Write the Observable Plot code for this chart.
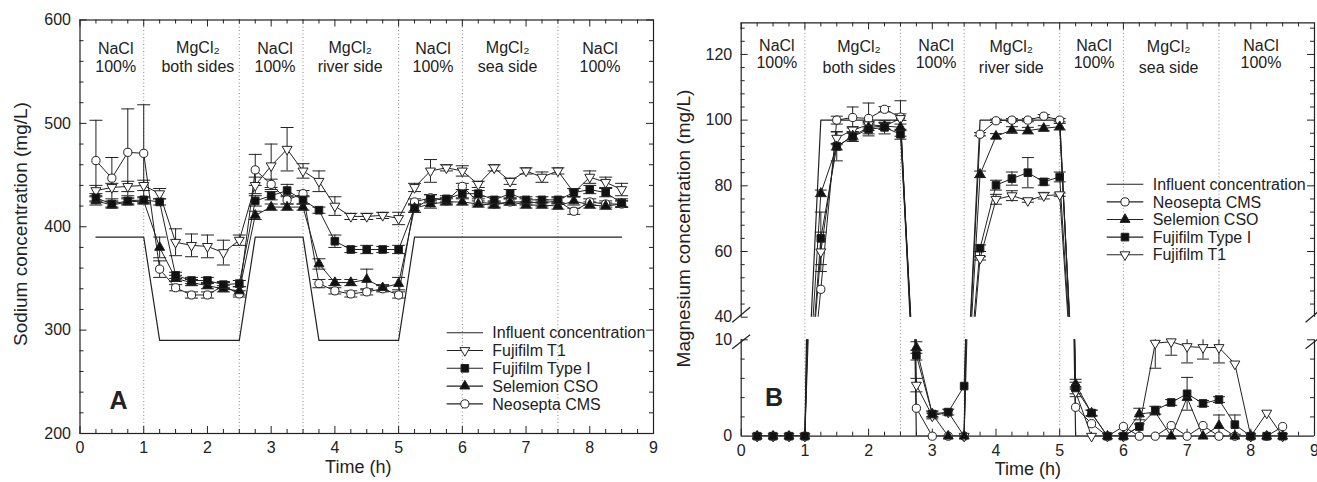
<!DOCTYPE html>
<html><head><meta charset="utf-8">
<script src="https://cdn.jsdelivr.net/npm/d3@7"></script>
<script src="https://cdn.jsdelivr.net/npm/@observablehq/plot@0.6"></script>
<style>
html,body{margin:0;padding:0;background:#fff;}
#fig{position:relative;width:1317px;height:482px;overflow:hidden;font-family:"Liberation Sans",Arial,sans-serif;}
#fig svg{position:absolute;overflow:visible;background:transparent;}
</style></head><body><div id="fig"></div>
<script>
// ---------------- data ----------------
const time = [0.25,0.5,0.75,1,1.25,1.5,1.75,2,2.25,2.5,2.75,3,3.25,3.5,3.75,4,4.25,4.5,4.75,5,5.25,5.5,5.75,6,6.25,6.5,6.75,7,7.25,7.5,7.75,8,8.25,8.5];
const phaseBounds = [1,2.5,3.5,5,6,7.5];
const naclLabelX = [0.56,3.06,5.54,8.16];
const naclLabels = ["NaCl\n100%","NaCl\n100%","NaCl\n100%","NaCl\n100%"];
const mgLabelX = [1.85,4.24,6.71];
const mgLabels = ["MgCl\u2082\nboth sides","MgCl\u2082\nriver side","MgCl\u2082\nsea side"];
const influentTime = [0.25,1,1.25,2.5,2.75,3.5,3.75,5,5.25,8.5];
const naInfluent = [390,390,290,290,390,390,290,290,390,390];
const mgInfluent = [0,0,100,100,0,0,100,100,0,0];

// Panel A: sodium (mg/L)
const naT1 = [435,438,439,440,432,385,382,381,375,387,440,459,475,454,444,420,410,410,411,408,438,454,457,454,441,457,444,454,448,454,433,448,443,436];
const naT1Err = [5,4,5,5,5,13,11,11,12,5,8,21,21,7,10,9,3,3,3,6,4,11,3,5,3,3,3,3,5,3,4,6,5,6];
const naType1 = [428,422,425,426,424,353,348,348,344,345,425,430,435,426,416,386,378,378,378,378,418,427,427,432,432,426,432,426,426,426,433,436,433,423];
const naType1Err = [4,3,3,3,3,3,3,3,3,3,5,4,6,4,3,6,3,4,3,4,4,4,3,4,3,3,4,3,3,3,4,4,4,4];
const naCSO = [425,421,424,425,380,350,346,343,340,338,411,419,419,419,364,346,346,349,341,345,418,422,424,424,422,421,424,421,421,420,425,421,420,422];
const naCSOErr = [4,3,3,3,10,3,3,3,3,4,4,3,3,3,5,3,3,10,3,6,4,4,3,3,3,3,3,3,3,3,4,3,3,3];
const naCMS = [464,447,472,471,359,341,334,334,343,335,455,441,426,432,345,338,335,337,340,334,424,428,425,439,424,422,424,424,423,425,415,424,422,422];
const naCMSErr = [39,20,42,47,8,3,3,3,3,3,15,5,4,3,4,3,3,3,3,3,3,3,3,3,3,3,3,3,3,3,3,3,3,3];

// Panel B: magnesium (mg/L)
const mgCMS = [0,0,0,0,48.5,100,100.8,100.5,103.3,100.9,2.9,0,0,0,95.7,99.8,100,100,101.2,100,3.0,1.3,0,1.0,0,0,1.1,0,1.1,0,0,0,0,1.0];
const mgCMSErr = [0,0,0,0,0,1.2,3.2,4.7,0.8,1,0,0,0,0,0.5,0.5,0.5,0.5,0.5,0.5,0,0,0,0,0,0,0,0,0,0,0,0,0,0];
const mgCSO = [0,0,0,0,77.7,91.9,95.2,97.8,98.2,97.8,9.2,2.3,0,0,83.5,95.1,97,96.8,97.5,98,5.4,2.4,0,0,2.3,2.5,0,4.0,0,1.1,0,0,0,0];
const mgCSOErr = [0,0,0,0,1,1,1.2,1,1,1,0.6,0.3,0,0,1,0.8,1,1,0.8,1,0.5,0.3,0,0,0.6,0,0,0,0,1.1,0,0,0,0];
const mgType1 = [0,0,0,0,64,92,95,97.2,97.8,95.7,8.4,2.3,2.5,5.2,61,80.2,82.2,84,81.2,82.7,5.0,2.4,0,0,1.0,2.7,3.5,4.4,3.4,3.8,1.2,0,0,0];
const mgType1Err = [0,0,0,0,8,4.4,1.5,2,2,1.5,0.5,0.3,0,0,1,1.5,2,4.6,1,1.5,0.6,0.3,0,0,0,0.4,0.3,1.7,0.3,0.3,1.0,0,0,0];
const mgT1 = [0,0,0,0,59.9,94.5,97,98.6,98.2,100.5,5.3,2.1,2.5,0,57.9,75.9,77,75.5,77,77.3,4.6,0,0,0,1.0,9.65,9.8,9.3,9.2,9.2,7.5,0,2.4,0];
const mgT1Err = [0,0,0,0,6,2,1,1,1,5.4,0.7,0.3,0.3,0,0.5,1.5,1.5,0.5,1,0.5,0.5,0,0,0,0,2.6,1.4,1.7,1.2,1.6,0,0,0,0];

const legendNamesA = ["Influent concentration","Fujifilm T1","Fujifilm Type I","Selemion CSO","Neosepta CMS"];
const legendNamesB = ["Influent concentration","Neosepta CMS","Selemion CSO","Fujifilm Type I","Fujifilm T1"];
const xTickLabels = [0,1,2,3,4,5,6,7,8,9];
const yTicksA = [200,300,400,500,600];
const yTicksBUpper = [40,60,80,100,120];
const yTicksBLower = [0,10];

// ---------------- helpers ----------------
const ink = "#222";
const font = "Liberation Sans, Arial, sans-serif";
const S3 = Math.sqrt(3);
const invTri = {draw(ctx, size){const y = -Math.sqrt(size/(S3*3)); ctx.moveTo(0,-2*y); ctx.lineTo(S3*y,y); ctx.lineTo(-S3*y,y); ctx.closePath();}};
const capA = {draw(ctx){ctx.moveTo(-6.5,0); ctx.lineTo(6.5,0);}};
const capB = {draw(ctx){ctx.moveTo(-6,0); ctx.lineTo(6,0);}};
const stT1 = {symbol: invTri, fill: "white", r: 3.7};
const stType1 = {symbol: "square", fill: "#111", r: 4.3};
const stCSO = {symbol: "triangle", fill: "#111", r: 3.7};
const stCMS = {symbol: "circle", fill: "white", r: 4.1};

const rowsOf = (vals, errs) => time.map((t,i) => ({t, v: vals[i], e: errs[i]}));
const infRows = vals => influentTime.map((t,i) => ({t, v: vals[i]}));

function seriesMarks(rows, st, lo, hi, clip, capSym) {
  const inD = v => v >= lo - 1e-9 && v <= hi + 1e-9;
  const err = rows.filter(d => d.e > 0);
  const caps = err.flatMap(d => [{t: d.t, v: d.v + d.e}, {t: d.t, v: d.v - d.e}]).filter(d => inD(d.v));
  return {
    line: Plot.line(rows, {x: "t", y: "v", stroke: ink, strokeWidth: 1, clip}),
    bars: [
      Plot.ruleX(err, {x: "t", y1: d => d.v - d.e, y2: d => d.v + d.e, stroke: ink, strokeWidth: 1, clip: true}),
      Plot.dot(caps, {x: "t", y: "v", symbol: capSym, fill: "none", stroke: ink, strokeWidth: 1})
    ],
    dots: Plot.dot(rows.filter(d => inD(d.v)), {x: "t", y: "v", symbol: st.symbol, r: st.r, fill: st.fill, stroke: ink, strokeWidth: 1})
  };
}

const xMajor = d3.range(0, 9.001, 1);
const xMinor = d3.range(0, 9.001, 0.25).filter(v => v % 1 !== 0);

function xTicks(H, bottom, top) {
  const m = [];
  if (bottom) {
    m.push(Plot.tickX(xMajor, {x: d => d, insetTop: H - 7, stroke: ink}));
    m.push(Plot.tickX(xMinor, {x: d => d, insetTop: H - 4, stroke: ink}));
  }
  if (top) {
    m.push(Plot.tickX(xMajor, {x: d => d, insetBottom: H - 7, stroke: ink}));
    m.push(Plot.tickX(xMinor, {x: d => d, insetBottom: H - 4, stroke: ink}));
  }
  return m;
}
function yTicks(W, major, minor) {
  return [
    Plot.tickY(major, {y: d => d, insetRight: W - 7, stroke: ink}),
    Plot.tickY(minor, {y: d => d, insetRight: W - 4, stroke: ink}),
    Plot.tickY(major, {y: d => d, insetLeft: W - 7, stroke: ink}),
    Plot.tickY(minor, {y: d => d, insetLeft: W - 4, stroke: ink})
  ];
}
function place(svg, left, top) {
  svg.style.position = "absolute";
  svg.style.left = left + "px";
  svg.style.top = top + "px";
  svg.style.overflow = "visible";
  document.getElementById("fig").appendChild(svg);
}

// ---------------- Panel A ----------------
{
  const W = 680, Hs = 482, mL = 79.5, mR = 27, mT = 19.5, mB = 49;
  const H = Hs - mT - mB, PW = W - mL - mR;
  const sT1 = seriesMarks(rowsOf(naT1, naT1Err), stT1, 200, 600, false, capA);
  const sTy = seriesMarks(rowsOf(naType1, naType1Err), stType1, 200, 600, false, capA);
  const sCS = seriesMarks(rowsOf(naCSO, naCSOErr), stCSO, 200, 600, false, capA);
  const sCM = seriesMarks(rowsOf(naCMS, naCMSErr), stCMS, 200, 600, false, capA);
  const yMinor = d3.range(220, 600, 20).filter(v => v % 100 !== 0);
  const svg = Plot.plot({
    width: W, height: Hs, marginLeft: mL, marginRight: mR, marginTop: mT, marginBottom: mB,
    style: {fontFamily: font, color: ink, overflow: "visible", background: "transparent"},
    x: {domain: [0, 9], axis: null},
    y: {domain: [200, 600], axis: null},
    marks: [
      Plot.ruleX(phaseBounds, {stroke: "#888", strokeDasharray: "1,2.5", strokeWidth: 1}),
      Plot.line(infRows(naInfluent), {x: "t", y: "v", stroke: ink, strokeWidth: 1.2}),
      sT1.line, sTy.line, sCS.line, sCM.line,
      ...sT1.bars, ...sTy.bars, ...sCS.bars, ...sCM.bars,
      sCM.dots, sT1.dots, sCS.dots, sTy.dots,
      Plot.frame({stroke: ink, strokeWidth: 1.2}),
      ...xTicks(H, true, true),
      ...yTicks(PW, yTicksA, yMinor),
      Plot.axisX({ticks: xTickLabels, tickSize: 0, tickPadding: 8, fontSize: 16, label: null, tickFormat: d => String(d)}),
      Plot.axisY({ticks: yTicksA, tickSize: 0, tickPadding: 9, fontSize: 16, label: null, tickFormat: d => String(d)}),
      Plot.text(naclLabels, {x: naclLabelX, text: d => d, frameAnchor: "top", dy: 21.5, lineAnchor: "top", lineHeight: 1.1, fontSize: 16, fill: ink}),
      Plot.text(mgLabels, {x: mgLabelX, text: d => d, frameAnchor: "top", dy: 19, lineAnchor: "top", lineHeight: 1.2, fontSize: 16, fill: ink}),
      Plot.text(["Time (h)"], {text: d => d, frameAnchor: "bottom", textAnchor: "middle", dx: -8.5, dy: 33.5, lineAnchor: "middle", fontSize: 18, fill: ink}),
      Plot.text(["Sodium concentration (mg/L)"], {text: d => d, frameAnchor: "left", textAnchor: "middle", lineAnchor: "middle", dx: -59.5, dy: -2.7, rotate: -90, fontSize: 19, fill: ink}),
      Plot.text(["A"], {text: d => d, frameAnchor: "bottom-left", textAnchor: "middle", dx: 38.5, dy: -25, lineAnchor: "bottom", fontSize: 25, fontWeight: "bold", fill: ink})
    ]
  });
  place(svg, 0, 0);
}

// ---------------- Panel B ----------------
const mgSeries = [
  [mgCMS, mgCMSErr, stCMS], [mgT1, mgT1Err, stT1], [mgCSO, mgCSOErr, stCSO], [mgType1, mgType1Err, stType1]
];
// upper part (40–130)
{
  const W = 657, Hs = 320, mL = 80.7, mR = 3, mT = 22.4, mB = 3.3;
  const H = Hs - mT - mB, PW = W - mL - mR;
  const top = 129.6;
  const ss = mgSeries.map(([v, e, st]) => seriesMarks(rowsOf(v, e), st, 40, top, true, capB));
  const yMinor = d3.range(44, 129, 4).filter(v => v % 20 !== 0);
  const svg = Plot.plot({
    width: W, height: Hs, marginLeft: mL, marginRight: mR, marginTop: mT, marginBottom: mB,
    style: {fontFamily: font, color: ink, overflow: "visible", background: "transparent"},
    x: {domain: [0, 9], axis: null},
    y: {domain: [40, top], axis: null},
    marks: [
      Plot.ruleX(phaseBounds, {stroke: "#888", strokeDasharray: "1,2.5", strokeWidth: 1}),
      Plot.line(infRows(mgInfluent), {x: "t", y: "v", stroke: ink, strokeWidth: 1.2, clip: true}),
      ...ss.map(s => s.line),
      ...ss.flatMap(s => s.bars),
      ...ss.map(s => s.dots),
      Plot.ruleX([0, 9], {stroke: ink, strokeWidth: 1.2}),
      Plot.ruleY([top], {stroke: ink, strokeWidth: 1.2}),
      ...xTicks(H, false, true),
      ...yTicks(PW, yTicksBUpper.filter(v => v > 40), yMinor),
      Plot.tickY([40], {y: d => d, insetRight: PW - 7, stroke: ink}),
      Plot.link([0, 9], {x1: d => d - 0.14, x2: d => d + 0.14, y1: 38.48, y2: 43.04, stroke: ink, strokeWidth: 1.2}),
      Plot.axisY({ticks: yTicksBUpper, tickSize: 0, tickPadding: 9, fontSize: 16, label: null, tickFormat: d => String(d)}),
      Plot.text(naclLabels, {x: naclLabelX, text: d => d, frameAnchor: "top", dy: 15.2, lineAnchor: "top", lineHeight: 1.1, fontSize: 16, fill: ink}),
      Plot.text(mgLabels, {x: mgLabelX, text: d => d, frameAnchor: "top", dy: 14.6, lineAnchor: "top", lineHeight: 1.28, fontSize: 16, fill: ink}),
      Plot.text(["Magnesium concentration (mg/L)"], {text: d => d, frameAnchor: "left", textAnchor: "middle", lineAnchor: "middle", dx: -57.7, dy: 58.5, rotate: -90, fontSize: 19, fill: ink})
    ]
  });
  place(svg, 660, 0);
}
// lower part (0–10)
{
  const W = 657, Hs = 152, mL = 80.7, mR = 3, mT = 9.3, mB = 46.3;
  const H = Hs - mT - mB, PW = W - mL - mR;
  const ss = mgSeries.map(([v, e, st]) => seriesMarks(rowsOf(v, e), st, 0, 10, true, capB));
  const svg = Plot.plot({
    width: W, height: Hs, marginLeft: mL, marginRight: mR, marginTop: mT, marginBottom: mB,
    style: {fontFamily: font, color: ink, overflow: "visible", background: "transparent"},
    x: {domain: [0, 9], axis: null},
    y: {domain: [0, 10], axis: null},
    marks: [
      Plot.ruleX(phaseBounds, {y1: 0, y2: 12.34, stroke: "#888", strokeDasharray: "1,2.5", strokeWidth: 1}),
      Plot.line(infRows(mgInfluent), {x: "t", y: "v", stroke: ink, strokeWidth: 1.2, clip: true}),
      ...ss.map(s => s.line),
      ...ss.flatMap(s => s.bars),
      Plot.ruleX([0, 9], {stroke: ink, strokeWidth: 1.2}),
      Plot.ruleY([0], {stroke: ink, strokeWidth: 1.2}),
      ...xTicks(H, true, false),
      ...yTicks(PW, [10], [2, 4, 6, 8]),
      Plot.link([0, 9], {x1: d => d - 0.14, x2: d => d + 0.14, y1: 9.07, y2: 10.52, stroke: ink, strokeWidth: 1.2}),
      ...ss.map(s => s.dots),
      Plot.axisX({ticks: xTickLabels, tickSize: 0, tickPadding: 8, fontSize: 16, label: null, tickFormat: d => String(d)}),
      Plot.axisY({ticks: yTicksBLower, tickSize: 0, tickPadding: 9, fontSize: 16, label: null, tickFormat: d => String(d)}),
      Plot.text(["Time (h)"], {text: d => d, frameAnchor: "bottom", textAnchor: "middle", dx: 0, dy: 33.5, lineAnchor: "middle", fontSize: 18, fill: ink}),
      Plot.text(["B"], {text: d => d, frameAnchor: "bottom-left", dx: 32.8, dy: -30, lineAnchor: "bottom", textAnchor: "middle", fontSize: 25, fontWeight: "bold", fill: ink})
    ]
  });
  place(svg, 660, 330);
}

// ---------------- legends ----------------
{
  const ov = d3.select("#fig").append("svg").attr("width", 1317).attr("height", 482)
    .style("left", "0px").style("top", "0px").style("pointer-events", "none");
  const symType = s => s === "circle" ? d3.symbolCircle : s === "square" ? d3.symbolSquare : s === "triangle" ? d3.symbolTriangle : s;
  function legend(x0, x1, tx, y0, step, names, styles) {
    names.forEach((name, i) => {
      const y = y0 + i * step;
      ov.append("line").attr("x1", x0).attr("x2", x1).attr("y1", y).attr("y2", y).attr("stroke", ink).attr("stroke-width", 1.1);
      const st = styles[i];
      if (st) ov.append("path").attr("d", d3.symbol(symType(st.symbol), Math.PI * st.r * st.r)())
        .attr("transform", `translate(${(x0 + x1) / 2},${y})`).attr("fill", st.fill).attr("stroke", ink);
      ov.append("text").attr("x", tx).attr("y", y).attr("dy", "0.36em").attr("font-size", 16)
        .attr("font-family", font).attr("fill", ink).text(name);
    });
  }
  legend(446.7, 483, 492.3, 332.7, 17.8, legendNamesA, [null, stT1, stType1, stCSO, stCMS]);
  legend(1106.7, 1143.3, 1152.7, 184.3, 17.6, legendNamesB, [null, stCMS, stCSO, stType1, stT1]);
}
</script>
</body></html>
